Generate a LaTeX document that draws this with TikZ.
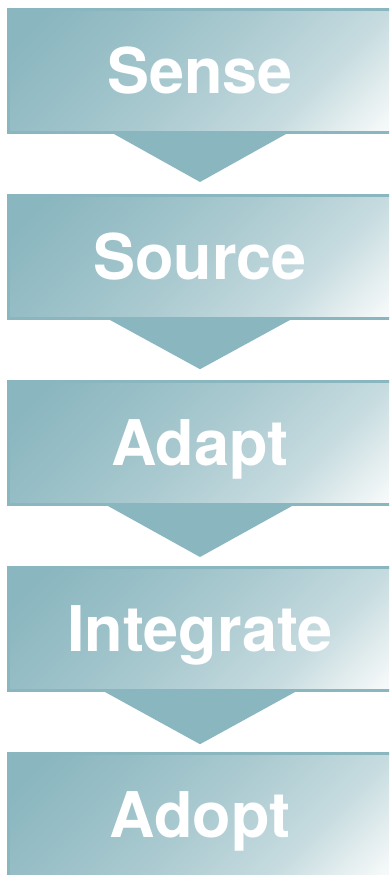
\documentclass[tikz,border=0pt]{standalone}
\usepackage{fontspec}
\setmainfont{TeX Gyre Heros}
\usetikzlibrary{calc}

\definecolor{stepteal}{RGB}{138,182,191}
\definecolor{steplight}{RGB}{246,249,249}

\pgfdeclareverticalshading{stepfade}{100bp}{color(0bp)=(steplight);
  color(16bp)=(steplight); color(32bp)=(stepteal!45!steplight);
  color(50bp)=(stepteal!70!steplight); color(66bp)=(stepteal!87!steplight);
  color(80bp)=(stepteal); color(100bp)=(stepteal)}

\begin{document}
\begin{tikzpicture}
  [x=1pt,y=-1pt,
   every node/.style={rectangle,draw=stepteal,line width=3pt,
     minimum width=383pt,minimum height=123pt,inner sep=0pt,
     shading=stepfade,shading angle=45,
     text=white,font=\bfseries\fontsize{63}{63}\selectfont,
     text height=45pt,text depth=0pt}]
  \path[use as bounding box,fill=white] (0,0) rectangle (389,875);
  \clip (0,0) rectangle (389,875);

  \node (sense) at (200,71) {Sense};
  \node (source) at (200,257) {Source};
  \node (adapt) at (200,443) {Adapt};
  \node (integrate) at (200,629) {Integrate};
  \node (adopt) at (200,815) {Adopt};

  \foreach \from/\to/\w/\d in {sense/source/86/0.8,source/adapt/90/0.82,
      adapt/integrate/92/0.85,integrate/adopt/95/0.87}
    \fill[stepteal] ([xshift=-\w pt]\from.south) -- ([xshift=\w pt]\from.south)
      -- ($(\from.south)!\d!(\to.north)$) -- cycle;

\end{tikzpicture}
\end{document}
